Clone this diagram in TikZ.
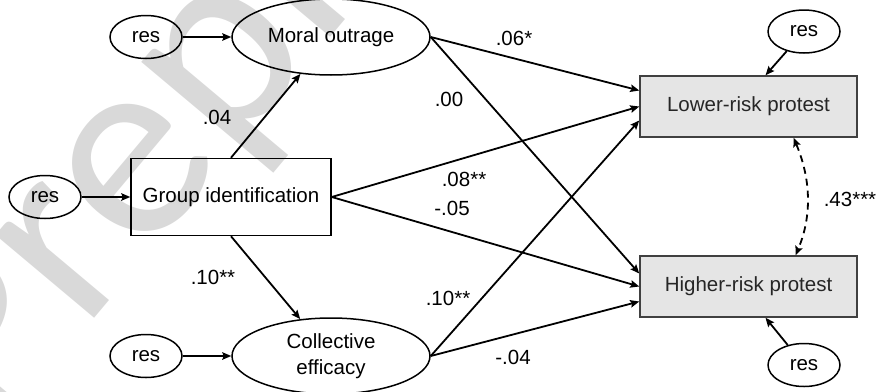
\documentclass[tikz,border=0pt]{standalone}
\usepackage{fontspec}
\setmainfont{Liberation Sans}
\newfontfamily\wmfont{Carlito}
\usetikzlibrary{arrows.meta,shapes.geometric}
\tikzset{
  lat/.style={ellipse, draw, line width=1.5pt, inner sep=0pt, minimum width=198pt, minimum height=76pt, align=center},
  resnode/.style={ellipse, draw, line width=1.5pt, inner sep=0pt, minimum width=72pt, minimum height=43pt},
  obs/.style={rectangle, draw, line width=1.5pt, inner sep=0pt, minimum width=200pt, minimum height=77pt},
  dv/.style={rectangle, draw=black!75, fill=black!10, line width=1.5pt, inner sep=0pt, minimum width=217pt, minimum height=61pt, text=black!85},
  tip/.tip={Stealth[length=9pt,width=7.5pt,inset=1.5pt]},
  path/.style={line width=1.8pt, -tip},
  lbl/.style={inner sep=0pt},
}
\begin{document}
\begin{tikzpicture}[x=1pt,y=-1pt,font=\fontsize{20.5}{24}\selectfont]
\useasboundingbox (0,0) rectangle (877,391);
% watermark
\node[rotate=50, anchor=base west, inner sep=0pt, font=\fontsize{270}{270}\selectfont\wmfont, text=black!15] (wm) at (-6,439) {Preprint};
% nodes
\node[resnode] (r1) at (146,37) {res};
\node[lat] (M) at (331,37) {Moral outrage};
\node[resnode] (r2) at (45,197) {res};
\node[obs] (G) at (231,197) {Group identification};
\node[resnode] (r3) at (146,356) {res};
\node[lat] (C) at (331,356) {Collective\\[2pt]efficacy};
\node[dv] (L) at (748.5,106.5) {Lower-risk protest};
\node[dv] (H) at (748.5,286.5) {Higher-risk protest};
\node[resnode] (rT) at (804,31.5) {res};
\node[resnode] (rB) at (804,365) {res};
% residual arrows
\draw[path] (r1) -- (M);
\draw[path] (r2) -- (G);
\draw[path] (r3) -- (C);
\draw[path] (rT) -- ([xshift=17pt]L.north);
\draw[path] (rB) -- ([xshift=17pt]H.south);
% structural paths
\draw[path] (G.north) -- (M);
\draw[path] (G.south) -- (C);
\draw[path] (M.east) -- ([yshift=16pt]L.west);
\draw[path] (M.east) -- ([yshift=13pt]H.west);
\draw[path] (G.east) -- (L.west);
\draw[path] (G.east) -- (H.west);
\draw[path] (C.east) -- ([yshift=-14pt]L.west);
\draw[path] (C.east) -- ([yshift=-15pt]H.west);
% covariance
\draw[line width=1.8pt, dash pattern=on 7pt off 5pt, tip-tip]
  ([xshift=45pt]L.south) .. controls +(17,40) and +(17,-40) .. ([xshift=47pt]H.north);
% labels
\node[lbl] (l1) at (217,117) {.04};
\node[lbl] (l2) at (213,277) {.10**};
\node[lbl] (l3) at (514,38) {.06*};
\node[lbl] (l4) at (449,99) {.00};
\node[lbl] (l5) at (464,179) {.08**};
\node[lbl] (l6) at (452,208) {-.05};
\node[lbl] (l7) at (448,298) {.10**};
\node[lbl] (l8) at (513,357) {-.04};
\node[lbl] (l9) at (850,199) {.43***};
\end{tikzpicture}
\end{document}
